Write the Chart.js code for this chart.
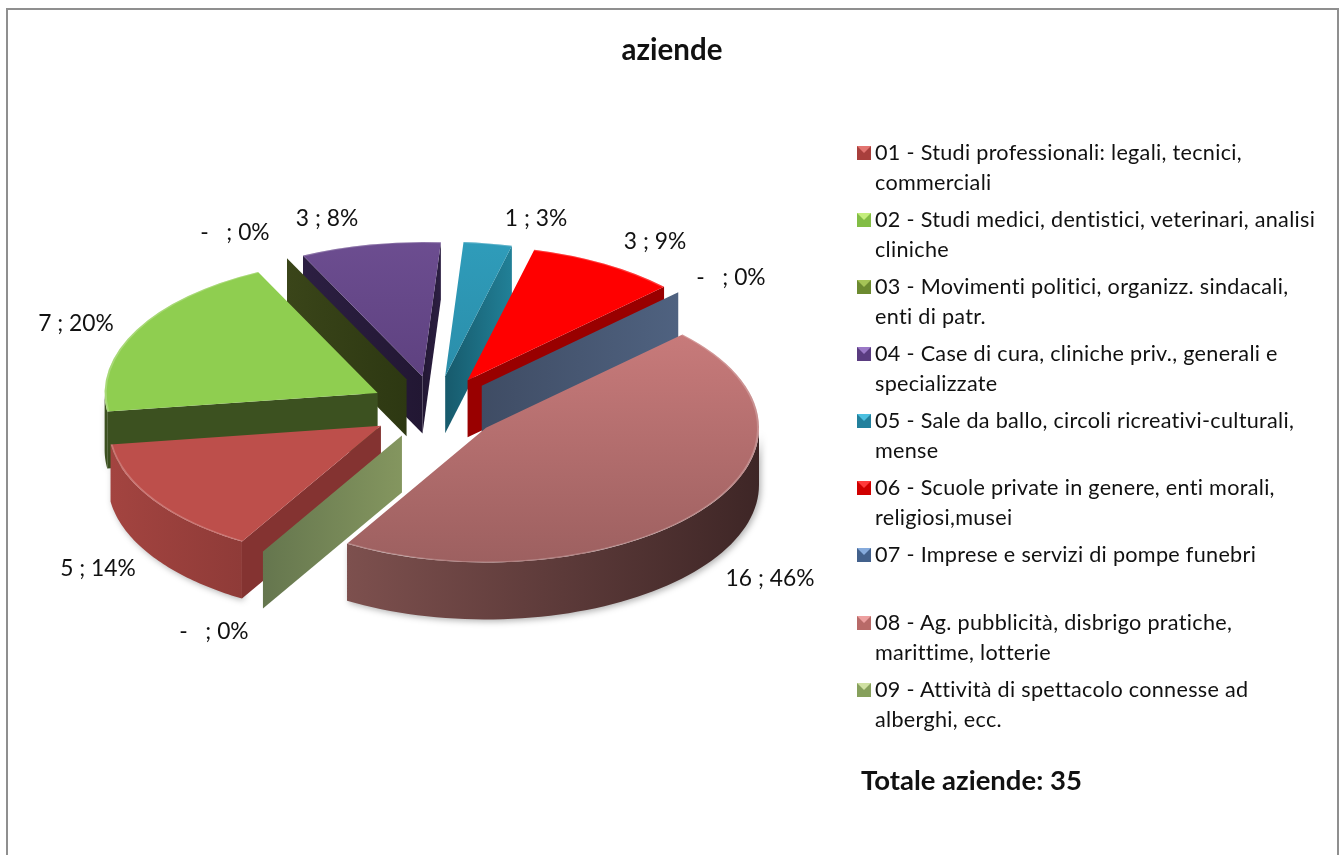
<!DOCTYPE html>
<html>
<head>
<meta charset="utf-8">
<title>aziende</title>
<script src="https://cdn.jsdelivr.net/npm/chart.js@4/dist/chart.umd.min.js"></script>
<style>
html, body { margin: 0; padding: 0; background: #fff; }
#wrap { position: relative; width: 1344px; height: 855px; overflow: hidden; font-family: Lato, "Open Sans", sans-serif; color: #111; font-variant-ligatures: none; }
#frame { position: absolute; left: 6px; top: 8px; width: 1329px; height: 860px; border: 2px solid #8f8f8f; }
canvas { position: absolute; left: 0; top: 0; }
.item { position: absolute; left: 875px; width: 460px; font-size: 21.6px; line-height: 30px; letter-spacing: 0.3px; white-space: nowrap; }
.box { position: absolute; left: -18px; top: 9px; width: 0; height: 0; border-style: solid; border-width: 7px; }
#totale { position: absolute; left: 861px; top: 763px; font-size: 27.5px; font-weight: 700; white-space: nowrap; }
</style>
</head>
<body>
<div id="wrap">
<div id="frame"></div>
<canvas id="torta" width="1344" height="855"></canvas>
<div id="legenda"></div>
<div id="totale">Totale aziende: 35</div>
</div>
<script>
const categories = [
    ["01 - Studi professionali: legali, tecnici,", "commerciali"],
    ["02 - Studi medici, dentistici, veterinari, analisi", "cliniche"],
    ["03 - Movimenti politici, organizz. sindacali,", "enti di patr."],
    ["04 - Case di cura, cliniche priv., generali e", "specializzate"],
    ["05 - Sale da ballo, circoli ricreativi-culturali,", "mense"],
    ["06 - Scuole private in genere, enti morali,", "religiosi,musei"],
    ["07 - Imprese e servizi di pompe funebri"],
    ["08 - Ag. pubblicità, disbrigo pratiche,", "marittime, lotterie"],
    ["09 - Attività di spettacolo connesse ad", "alberghi, ecc."]
]
// 04 and 06 both print "3" but 8% and 9%, so the real values differ a little
const aziende = [5, 7, 0, 2.9, 1, 3.1, 0, 16, 0]
const valueLabels = ["5 ; 14%", "7 ; 20%", "-   ; 0%", "3 ; 8%", "1 ; 3%", "3 ; 9%", "-   ; 0%", "16 ; 46%", "-   ; 0%"]

const topColors = ["#bd4f4b", "#8fce50", "#76923c", "#6c4d90", "#2f9cba", "#ff0000", "#4f6280", "#cf7f7f", "#8a9e68"]
const topColorsLow = ["#bd4f4b", "#8fce50", "#76923c", "#503670", "#26809a", "#ff0000", "#4f6280", "#9d6060", "#8a9e68"]
const rimLight = ["#a34440", "#3c5120", "#3a4519", "#2c1f42", "#1c6a80", "#990000", "#4f6280", "#7d504e", "#84965f"]
const rimDark = ["#8f3b38", "#3c5120", "#2d3812", "#221733", "#15586b", "#990000", "#3f4c64", "#3e2626", "#65764e"]
const sideLight = ["#843331", "#3c5120", "#3a4519", "#2c1f42", "#218097", "#990000", "#4f6280", "#7d504e", "#65764e"]
const sideDark = ["#843331", "#3c5120", "#2d3812", "#221733", "#175a6c", "#990000", "#3f4c64", "#3e2626", "#84965f"]
const boxBase = ["#a83f3c", "#82bd45", "#6c8a30", "#5a3c80", "#22809c", "#d00000", "#43618c", "#b86a68", "#86a05c"]
const boxLight = ["#e27470", "#c4ee7c", "#a5c356", "#9a78c6", "#4cc0e0", "#ff3a3a", "#86abdc", "#eda0a0", "#cfe0a2"]

const labelSpots = [[98, 569], [76, 324], [235, 233], [327, 219], [536, 219], [655, 242], [731, 278], [770, 579], [214, 632]]
const legendTops = [137, 204, 271, 338, 405, 472, 539, 607, 674]
const drawOrder = [4, 3, 5, 6, 2, 1, 0, 8, 7]

const pieCenterX = 435
const pieCenterY = 408
const squash = 0.493
const depth = 57
const pieRadius = 273
const explode = 65

// screen position of a point on the flat pie
function flatPoint(arc, angle, r) {
    const mid = (arc.startAngle + arc.endAngle) / 2
    return {
        x: pieCenterX + Math.cos(mid) * explode + Math.cos(angle) * r,
        y: pieCenterY + (Math.sin(mid) * explode + Math.sin(angle) * r) * squash
    }
}

function radialWall(ctx, arc, angle, light, dark) {
    const a = flatPoint(arc, angle, 0)
    const b = flatPoint(arc, angle, arc.outerRadius)
    const g = ctx.createLinearGradient(a.x, 0, b.x, 0)
    g.addColorStop(0, light)
    g.addColorStop(1, dark)
    ctx.fillStyle = g
    ctx.beginPath()
    ctx.moveTo(a.x, a.y)
    ctx.lineTo(b.x, b.y)
    ctx.lineTo(b.x, b.y + depth)
    ctx.lineTo(a.x, a.y + depth)
    ctx.closePath()
    ctx.fill()
}

function rimWall(ctx, arc, from, to, light, dark) {
    const steps = 60
    const pts = []
    for (let i = 0; i <= steps; i++) {
        pts.push(flatPoint(arc, from + (to - from) * i / steps, arc.outerRadius))
    }
    const xs = pts.map(p => p.x)
    const g = ctx.createLinearGradient(Math.max(...xs), 0, Math.min(...xs), 0)
    g.addColorStop(0, dark)
    g.addColorStop(1, light)
    ctx.save()
    ctx.shadowColor = "rgba(0,0,0,0.3)"
    ctx.shadowBlur = 6
    ctx.shadowOffsetX = 2
    ctx.shadowOffsetY = 2
    ctx.fillStyle = g
    ctx.beginPath()
    pts.forEach((p, i) => i ? ctx.lineTo(p.x, p.y) : ctx.moveTo(p.x, p.y))
    pts.slice().reverse().forEach(p => ctx.lineTo(p.x, p.y + depth))
    ctx.closePath()
    ctx.fill()
    ctx.restore()
}

const pie3d = {
    id: "pie3d",
    beforeDatasetsDraw(chart) {
        const ctx = chart.ctx
        const arcs = chart.getDatasetMeta(0).data
        drawOrder.forEach(i => {
            const arc = arcs[i]
            const a0 = arc.startAngle
            const a1 = arc.endAngle
            if (a1 - a0 < 0.0001) {
                radialWall(ctx, arc, a0, sideDark[i], sideLight[i])
                return
            }
            // outer wall only where it faces the viewer
            for (let k = -1; k <= 1; k++) {
                const from = Math.max(a0, k * 2 * Math.PI)
                const to = Math.min(a1, k * 2 * Math.PI + Math.PI)
                if (to > from) rimWall(ctx, arc, from, to, rimLight[i], rimDark[i])
            }
            if (Math.cos(a0) < 0) radialWall(ctx, arc, a0, sideDark[i], sideLight[i])
            if (Math.cos(a1) > 0) radialWall(ctx, arc, a1, sideDark[i], sideLight[i])

            const mid = (a0 + a1) / 2
            ctx.save()
            ctx.translate(pieCenterX, pieCenterY)
            ctx.scale(1, squash)
            ctx.translate(Math.cos(mid) * explode - arc.x, Math.sin(mid) * explode - arc.y)
            arc.draw(ctx)
            // thin light edge along the rim
            ctx.beginPath()
            ctx.arc(arc.x, arc.y, arc.outerRadius - 1, a0, a1)
            ctx.strokeStyle = "rgba(255,255,255,0.22)"
            ctx.lineWidth = 2
            ctx.stroke()
            ctx.restore()
        })
        return false
    },
    afterDraw(chart) {
        const ctx = chart.ctx
        ctx.save()
        ctx.font = "22.8px Lato, 'Open Sans', sans-serif"
        ctx.fillStyle = "#111"
        ctx.textAlign = "center"
        ctx.textBaseline = "middle"
        valueLabels.forEach((t, i) => ctx.fillText(t, labelSpots[i][0], labelSpots[i][1]))
        ctx.restore()
    }
}

new Chart(document.getElementById("torta"), {
    type: "pie",
    data: {
        labels: categories.map(c => c.join(" ")),
        datasets: [{
            data: aziende,
            backgroundColor(c) {
                const area = c.chart.chartArea
                if (!area) return topColors[c.dataIndex]
                const mid = (area.top + area.bottom) / 2
                const g = c.chart.ctx.createLinearGradient(0, mid - pieRadius, 0, mid + pieRadius)
                g.addColorStop(0, topColors[c.dataIndex])
                g.addColorStop(1, topColorsLow[c.dataIndex])
                return g
            },
            borderWidth: 0,
            radius: pieRadius
        }]
    },
    options: {
        responsive: false,
        animation: false,
        rotation: 210.6,
        plugins: {
            legend: { display: false },
            tooltip: { enabled: false },
            title: {
                display: true,
                text: "aziende",
                color: "#111",
                font: { family: "Lato, 'Open Sans', sans-serif", size: 29.5, weight: "bold" },
                padding: { top: 33, bottom: 10 }
            }
        }
    },
    plugins: [pie3d]
})

// legend with wrapped entries, chart.js legend does not wrap
const legenda = document.getElementById("legenda")
categories.forEach((lines, i) => {
    const item = document.createElement("div")
    item.className = "item"
    item.style.top = legendTops[i] + "px"
    item.innerHTML = lines.join("<br>")
    const box = document.createElement("span")
    box.className = "box"
    box.style.borderColor = boxLight[i] + " " + boxBase[i] + " " + boxBase[i] + " " + boxBase[i]
    item.appendChild(box)
    legenda.appendChild(item)
})
</script>
</body>
</html>
